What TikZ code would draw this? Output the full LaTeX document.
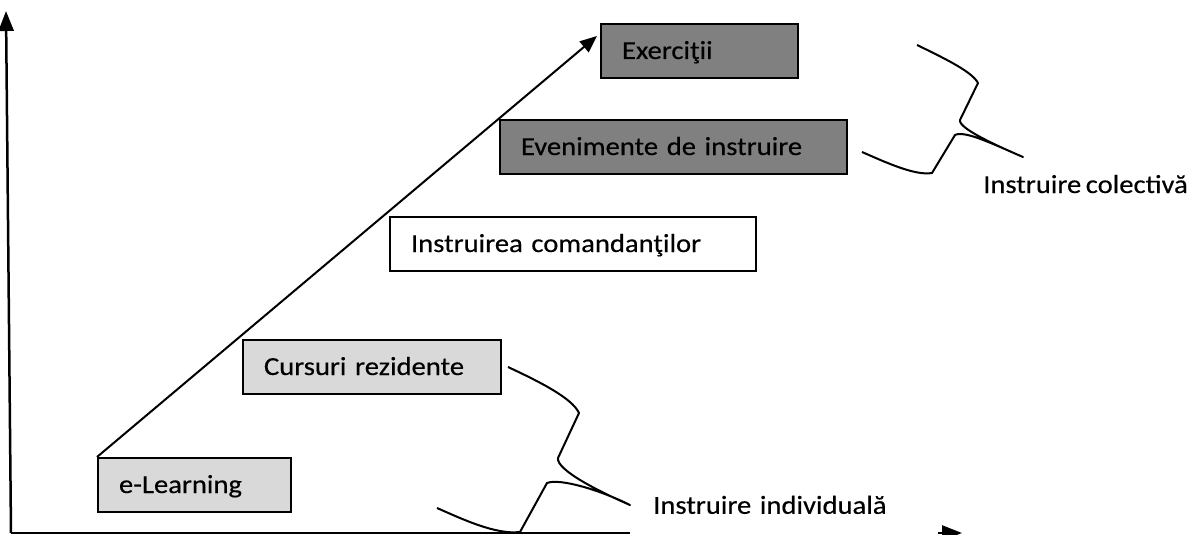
\documentclass[tikz,border=0pt]{standalone}
\usepackage{fontspec}
\setmainfont{Carlito}[FakeStretch=1.1,WordSpace=0.7,FakeBold=0.4]
\usetikzlibrary{arrows.meta,calc}
\definecolor{darkbox}{HTML}{808080}
\definecolor{lightbox}{HTML}{D9D9D9}
\begin{document}
\begin{tikzpicture}[x=1pt,y=-1pt,
  stagebox/.style={draw=black, line width=2pt, anchor=north west, inner xsep=21pt, inner ysep=0pt,
    minimum height=54pt, text height=21pt, text depth=5pt, align=left,
    font=\fontsize{26}{30}\selectfont},
  labeltext/.style={font=\fontsize{26}{30}\selectfont, inner sep=0pt},
  axis/.style={line width=2.5pt, -{Triangle[length=20pt,width=15pt]}},
  bracepath/.style={line width=2pt, line join=round}]
\useasboundingbox (0,0) rectangle (1202,535);
% axes
\coordinate (O) at (11,533);
\coordinate (Y) at (6,11);
\coordinate (X) at (962,533);
\draw[axis] (O) -- (Y);
\draw[axis] (O) -- (X);
% boxes
\node[stagebox, fill=darkbox, text width=155pt] (ex) at (600,23) {Exerciţii};
\node[stagebox, fill=darkbox, text width=305pt] (ev) at (499,119) {Evenimente de instruire};
\node[stagebox, fill=white, text width=324pt] (ic) at (389,216) {Instruirea comandanţilor};
\node[stagebox, fill=lightbox, text width=216pt] (cr) at (242,339) {Cursuri rezidente};
\node[stagebox, fill=lightbox, text width=151pt] (el) at (97,457) {e-Learning};
% diagonal arrow
\coordinate (tip) at ($(ex.north west)+(-3,13)$);
\draw[line width=2pt, -{Triangle[length=17pt,width=14pt]}] (el.north west) -- (tip);
% labels
\node[labeltext, anchor=base west] (lc) at (983,193) {Instruire colectivă};
\node[fill=white, anchor=south west, inner xsep=23pt, inner ysep=0pt, text width=262pt,
  text height=18pt, text depth=24pt, align=left, font=\fontsize{26}{30}\selectfont] (li) at (630,538) {Instruire individuală};
% upper brace
\coordinate (ua) at (917,45);
\coordinate (ub) at (978,83);
\coordinate (uc) at (960,120);
\coordinate (ud) at (1023,157);
\coordinate (ue) at (955,135);
\coordinate (uf) at (932,173);
\coordinate (ug) at (862,152);
\draw[bracepath] (ua) .. controls (948,60) and (972,72) .. (ub) -- (uc)
  .. controls (958,128) and (995,145) .. (ud)
  .. controls (995,145) and (965,130) .. (ue) -- (uf)
  .. controls (915,176) and (885,162) .. (ug);
% lower brace
\coordinate (la) at (508,367);
\coordinate (lb) at (579,413);
\coordinate (lc2) at (558,458);
\coordinate (ld) at (630,505);
\coordinate (le) at (547,483);
\coordinate (lf) at (520,532);
\coordinate (lg) at (437,508);
\draw[bracepath] (la) .. controls (540,382) and (572,398) .. (lb) -- (lc2)
  .. controls (556,470) and (600,492) .. (ld)
  .. controls (600,490) and (560,478) .. (le) -- (lf)
  .. controls (495,535) and (460,518) .. (lg);
\end{tikzpicture}
\end{document}
